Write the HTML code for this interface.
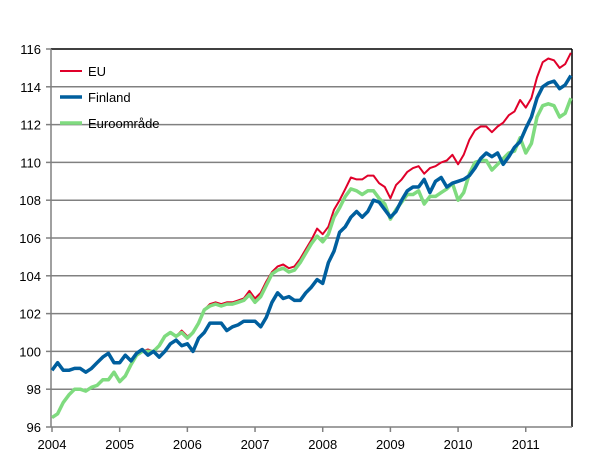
<!DOCTYPE html><html><head><style>body{margin:0;background:#fff}svg{display:block}text{font-family:"Liberation Sans",sans-serif;font-size:13px;fill:#000}</style></head><body>
<svg id="s" width="607" height="474" xmlns="http://www.w3.org/2000/svg">
<g id="grid" stroke="#808080" stroke-width="1.5"></g>
<line x1="51" y1="49" x2="572" y2="49" stroke="#000" stroke-width="1.5"/>
<line x1="572" y1="49" x2="572" y2="427" stroke="#000" stroke-width="1.5"/>
<line x1="51" y1="49" x2="51" y2="427" stroke="#808080" stroke-width="1.5"/>
<line x1="51" y1="427" x2="572" y2="427" stroke="#808080" stroke-width="1.5"/>
<g id="lab"></g>
<polyline id="r" fill="none" stroke="#e0002a" stroke-width="2" stroke-linejoin="round"/>
<polyline id="g" fill="none" stroke="#7fdb7f" stroke-width="3.5" stroke-linejoin="round"/>
<polyline id="b" fill="none" stroke="#005f9e" stroke-width="3.5" stroke-linejoin="round"/>
<line x1="60" y1="71" x2="82" y2="71" stroke="#e0002a" stroke-width="2"/>
<line x1="60" y1="97" x2="82" y2="97" stroke="#005f9e" stroke-width="3.5"/>
<line x1="60" y1="123" x2="82" y2="123" stroke="#7fdb7f" stroke-width="3.5"/>
<text x="88" y="76">EU</text><text x="88" y="102">Finland</text><text x="88" y="128">Euroområde</text>
</svg>
<script>
var Y=v=>427-(v-96)*18.9,X=i=>52+i*5.64;
var grid=document.getElementById('grid'),lab=document.getElementById('lab'),ns="http://www.w3.org/2000/svg";
function el(p,t,a,tx){var e=document.createElementNS(ns,t);for(var k in a)e.setAttribute(k,a[k]);if(tx)e.textContent=tx;p.appendChild(e);}
for(var v=96;v<=116;v+=2){var y=Y(v);if(v>96&&v<116)el(grid,'line',{x1:51,x2:572,y1:y,y2:y});el(lab,'line',{x1:46,x2:51,y1:y,y2:y,stroke:'#808080','stroke-width':1.5});el(lab,'text',{x:41,y:y+5,'text-anchor':'end'},v);}
for(var yr=0;yr<8;yr++){var x=X(yr*12);el(lab,'line',{x1:x,x2:x,y1:427,y2:432,stroke:'#808080','stroke-width':1.5});el(lab,'text',{x:x,y:449,'text-anchor':'middle'},2004+yr);}
var fi=[99.0,99.4,99.0,99.0,99.1,99.1,98.9,99.1,99.4,99.7,99.9,99.4,99.4,99.8,99.5,99.9,100.1,99.8,100.0,99.7,100.0,100.4,100.6,100.3,100.4,100.0,100.7,101.0,101.5,101.5,101.5,101.1,101.3,101.4,101.6,101.6,101.6,101.3,101.8,102.6,103.1,102.8,102.9,102.7,102.7,103.1,103.4,103.8,103.6,104.7,105.3,106.3,106.6,107.1,107.4,107.1,107.4,108.0,107.9,107.5,107.1,107.4,108.0,108.5,108.7,108.7,109.1,108.4,109.0,109.2,108.7,108.9,109.0,109.1,109.3,109.7,110.2,110.5,110.3,110.5,109.9,110.3,110.8,111.1,111.8,112.4,113.4,114.0,114.2,114.3,113.9,114.1,114.6];
var eu=[96.5,96.7,97.3,97.7,98.0,98.0,97.9,98.1,98.2,98.5,98.5,98.9,98.4,98.7,99.3,99.8,100.0,100.1,100.0,100.3,100.8,101.0,100.8,101.1,100.8,101.0,101.5,102.2,102.5,102.6,102.5,102.6,102.6,102.7,102.8,103.2,102.8,103.1,103.7,104.2,104.5,104.6,104.4,104.5,104.9,105.4,105.9,106.5,106.2,106.6,107.5,108.0,108.6,109.2,109.1,109.1,109.3,109.3,108.9,108.7,108.1,108.8,109.1,109.5,109.7,109.8,109.4,109.7,109.8,110.0,110.1,110.4,109.9,110.4,111.2,111.7,111.9,111.9,111.6,111.9,112.1,112.5,112.7,113.3,112.9,113.4,114.5,115.3,115.5,115.4,115.0,115.2,115.8];
var ea=[96.5,96.7,97.3,97.7,98.0,98.0,97.9,98.1,98.2,98.5,98.5,98.9,98.4,98.7,99.3,99.8,100.0,100.0,100.0,100.3,100.8,101.0,100.8,101.0,100.7,101.0,101.5,102.2,102.4,102.5,102.4,102.5,102.5,102.6,102.7,103.0,102.6,102.9,103.5,104.1,104.3,104.4,104.2,104.3,104.7,105.2,105.7,106.1,105.8,106.2,107.1,107.6,108.2,108.6,108.5,108.3,108.5,108.5,108.1,107.8,107.0,107.5,107.9,108.3,108.3,108.5,107.8,108.2,108.2,108.4,108.6,108.9,108.0,108.4,109.4,110.0,110.1,110.1,109.6,109.9,110.2,110.5,110.6,111.3,110.5,111.0,112.4,113.0,113.1,113.0,112.4,112.6,113.4];
function pts(a){return a.map((v,i)=>X(i).toFixed(1)+','+Y(v).toFixed(1)).join(' ');}
document.getElementById('b').setAttribute('points',pts(fi));
document.getElementById('r').setAttribute('points',pts(eu));
document.getElementById('g').setAttribute('points',pts(ea));
</script></body></html>
